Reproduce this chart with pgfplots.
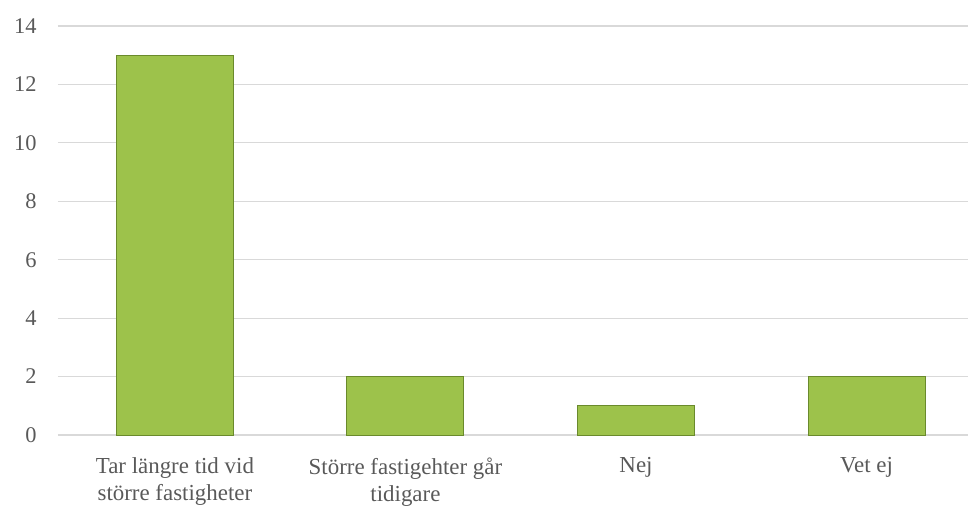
\documentclass[border=0pt]{standalone}
\usepackage{pgfplots}
\pgfplotsset{compat=1.18}
\usepackage{fontspec}
\setmainfont{Liberation Serif}

\definecolor{gridgray}{HTML}{D9D9D9}
\definecolor{txtgray}{HTML}{595959}
\definecolor{barfill}{HTML}{9DC24B}
\definecolor{baredge}{HTML}{6A8A2C}

\begin{document}
\begin{tikzpicture}[x=1bp,y=1bp]
\begin{axis}[
    name=ax,
    at={(0,0)}, anchor=south west,
    scale only axis,
    width=910bp,
    height=409bp,
    xmin=-0.507, xmax=3.44,
    ymin=0, ymax=14,
    ytick={0,2,...,14},
    xtick={0,1,2,3},
    xticklabels={{Tar längre tid vid\\större fastigheter},{Större fastigehter går\\tidigare},Nej,Vet ej},
    xticklabel style={align=center, text=txtgray, font=\fontsize{23}{27}\selectfont, yshift=-19bp},
    yticklabel style={text=txtgray, font=\fontsize{22.5}{26}\selectfont, xshift=-18bp},
    /pgf/number format/assume math mode=true,
    axis line style={draw=none},
    axis x line*=bottom,
    axis y line=none,
    hide y axis=false,
    ymajorgrids,
    grid style={gridgray, line width=1.2bp},
    major tick length=0pt,
    ybar,
    bar width=117bp,
    clip=false,
]
\addplot[draw=baredge, line width=1bp, fill=barfill]
 coordinates {(0,13) (1,2) (2,1) (3,2)};
\end{axis}
\pgfresetboundingbox
\path[use as bounding box] (-58bp,-73bp) rectangle (912bp,435bp);
\end{tikzpicture}
\end{document}
